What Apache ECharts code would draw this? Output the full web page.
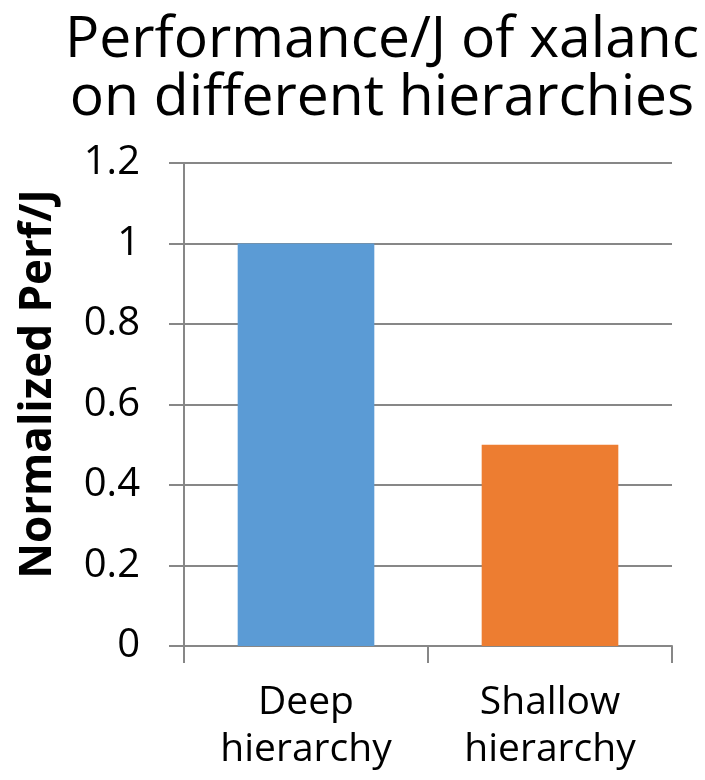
<!DOCTYPE html>
<html>
<head>
<meta charset="utf-8">
<script src="https://cdn.jsdelivr.net/npm/echarts@6/dist/echarts.min.js"></script>
<style>
  html, body { margin: 0; padding: 0; background: #fff; }
  #chart { width: 705px; height: 780px; }
</style>
</head>
<body>
<div id="chart"></div>
<script>
// Chart data
const categories = ['Deep\nhierarchy', 'Shallow\nhierarchy'];
const perfPerJoule = [1.0, 0.5];
const barColors = ['#5b9bd5', '#ed7d31'];
const yTicks = { min: 0, max: 1.2, interval: 0.2 };
const yAxisTitle = 'Normalized Perf/J';

const chart = echarts.init(document.getElementById('chart'), null, { renderer: 'canvas' });
const fontFamily = '"Open Sans", "DejaVu Sans", sans-serif';
const lineColor = '#878787';

chart.setOption({
  animation: false,
  backgroundColor: '#ffffff',
  title: {
    text: 'Performance/J of xalanc\non different hierarchies',
    left: 377,
    top: 7,
    textAlign: 'center',
    textStyle: {
      fontFamily: fontFamily,
      fontWeight: 'normal',
      fontSize: 57,
      lineHeight: 58,
      color: '#000'
    }
  },
  grid: { left: 184, right: 33, top: 163, bottom: 134, containLabel: false },
  xAxis: {
    type: 'category',
    data: categories,
    axisLine: { lineStyle: { color: lineColor, width: 2 } },
    axisTick: { show: true, length: 17, lineStyle: { color: lineColor, width: 2 } },
    axisLabel: {
      fontFamily: fontFamily,
      fontSize: 39,
      lineHeight: 47,
      color: '#000',
      margin: 33
    }
  },
  yAxis: {
    type: 'value',
    min: yTicks.min,
    max: yTicks.max,
    interval: yTicks.interval,
    axisLine: { show: true, lineStyle: { color: lineColor, width: 2 } },
    axisTick: { show: true, length: 15, lineStyle: { color: lineColor, width: 2 } },
    splitLine: { show: true, lineStyle: { color: lineColor, width: 2 } },
    axisLabel: {
      fontFamily: fontFamily,
      fontSize: 40,
      color: '#000',
      margin: 44,
      formatter: v => String(Math.round(v * 10) / 10)
    }
  },
  graphic: [{
    type: 'text',
    x: 38,
    y: 384,
    rotation: Math.PI / 2,
    style: {
      text: yAxisTitle,
      fontFamily: fontFamily,
      fontWeight: 'bold',
      fontSize: 44,
      fill: '#000',
      align: 'center',
      verticalAlign: 'middle'
    }
  }],
  series: [{
    type: 'bar',
    data: perfPerJoule.map((v, i) => ({ value: v, itemStyle: { color: barColors[i] } })),
    barWidth: '56%'
  }]
});
</script>
</body>
</html>
